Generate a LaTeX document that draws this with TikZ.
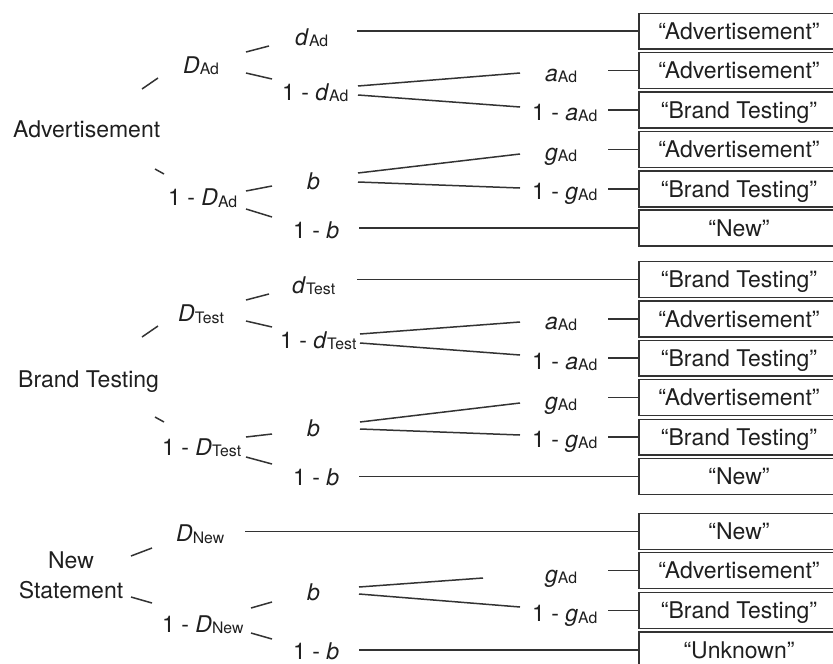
\documentclass[tikz,border=0pt]{standalone}
\usepackage{fontspec}
\setmainfont{TeX Gyre Heros}
\newcommand{\vs}[2]{\textit{#1}\raisebox{-1.5pt}{\fontsize{15.8}{16}\selectfont #2}}
\begin{document}
\begin{tikzpicture}[x=1pt,y=-1pt,
  lbl/.style={anchor=base west,inner sep=0pt,text=black!88,font=\fontsize{23}{27}\selectfont},
  outbox/.style={minimum width=200pt,minimum height=35.5pt,
     inner sep=0pt,text height=16.5pt,text depth=0pt,text=black!88,font=\fontsize{23}{27}\selectfont},
  edge/.style={draw=black!80,line width=1.5pt}]
\useasboundingbox (0,0) rectangle (833,664);

% ---------- labels, section 1 ----------
\node[lbl] (adv) at (13,137) {Advertisement};
\node[lbl] (DAd) at (183,73) {\vs{D}{Ad}};
\node[lbl] (dAd) at (295,45) {\vs{d}{Ad}};
\node[lbl] (omdAd) at (282,100) {1 - \vs{d}{Ad}};
\node[lbl] (aAdA) at (545,81) {\vs{a}{Ad}};
\node[lbl] (omaAdA) at (532,120) {1 - \vs{a}{Ad}};
\node[lbl] (bAd) at (307,189) {\textit{b}};
\node[lbl] (gAdA) at (545,160) {\vs{g}{Ad}};
\node[lbl] (omgAdA) at (532,199.3) {1 - \vs{g}{Ad}};
\node[lbl] (omDAd) at (168,205.5) {1 - \vs{D}{Ad}};
\node[lbl] (ombAd) at (293,238.3) {1 - \textit{b}};

% ---------- labels, section 2 ----------
\node[lbl] (bt) at (18,387.3) {Brand Testing};
\node[lbl] (DTest) at (178,321.7) {\vs{D}{Test}};
\node[lbl] (dTest) at (292,293.3) {\vs{d}{Test}};
\node[lbl] (omdTest) at (280,348.3) {1 - \vs{d}{Test}};
\node[lbl] (aAdB) at (545,329) {\vs{a}{Ad}};
\node[lbl] (omaAdB) at (532,369.3) {1 - \vs{a}{Ad}};
\node[lbl] (bTest) at (307,436.7) {\textit{b}};
\node[lbl] (gAdB) at (545,409) {\vs{g}{Ad}};
\node[lbl] (omgAdB) at (532,447) {1 - \vs{g}{Ad}};
\node[lbl] (omDTest) at (162,455) {1 - \vs{D}{Test}};
\node[lbl] (ombTest) at (293,485) {1 - \textit{b}};

% ---------- labels, section 3 ----------
\node[lbl,anchor=base,align=center,font=\fontsize{23}{30}\selectfont] (ns) at (71,598.3) {New\\Statement};
\node[lbl] (DNew) at (176,541.7) {\vs{D}{New}};
\node[lbl] (bNew) at (307,600.7) {\textit{b}};
\node[lbl] (gAdC) at (545,582.3) {\vs{g}{Ad}};
\node[lbl] (omgAdC) at (532,621.8) {1 - \vs{g}{Ad}};
\node[lbl] (omDNew) at (162,632.3) {1 - \vs{D}{New}};
\node[lbl] (ombNew) at (293,659) {1 - \textit{b}};

% ---------- outcome boxes (open at the right page edge) ----------
\node[outbox] (box1) at (739,31.2) {“Advertisement”};
\node[outbox] (box2) at (739,70.5) {“Advertisement”};
\node[outbox] (box3) at (739,110) {“Brand Testing”};
\node[outbox] (box4) at (739,149.5) {“Advertisement”};
\node[outbox] (box5) at (739,188.9) {“Brand Testing”};
\node[outbox] (box6) at (739,227.9) {“New”};
\node[outbox] (box7) at (739,279.5) {“Brand Testing”};
\node[outbox] (box8) at (739,319) {“Advertisement”};
\node[outbox] (box9) at (739,358.2) {“Brand Testing”};
\node[outbox] (box10) at (739,397.3) {“Advertisement”};
\node[outbox] (box11) at (739,437.2) {“Brand Testing”};
\node[outbox] (box12) at (739,476.5) {“New”};
\node[outbox] (box13) at (739,531.5) {“New”};
\node[outbox] (box14) at (739,570.5) {“Advertisement”};
\node[outbox] (box15) at (739,610.5) {“Brand Testing”};
\node[outbox] (box16) at (739,650) {“Unknown”};
\foreach \i in {1,...,15}{
  \draw[edge] (box\i.north -| 834,0) -- (box\i.north west) -- (box\i.south west) -- (box\i.south -| 834,0);
}
\draw[edge] (box16.north -| 834,0) -- (box16.north west) -- (box16.west |- 0,665);

% ---------- lines into the boxes ----------
\foreach \i/\x in {1/357,2/608,3/608,4/608,5/608,6/359,
                   7/357,8/608,9/608,10/608,11/608,12/359,
                   13/245,14/608,15/608,16/359}{
  \coordinate (st\i) at (box\i.west -| \x,0);
  \draw[edge] (st\i) -- (box\i.west);
}

% ---------- short tree strokes and fan lines ----------
\foreach \n/\xa/\ya/\xb/\yb in {
  sa/142/89/158/78, sb/155/169/164/174,
  sc/246/52/269/46, sd/246/73/272/79,
  se/246/191/272/186, sf/246/209/272/217,
  fa/358/86/520/73, fb/358/95/520/107,
  fc/358/173/520/154, fd/358/182/520/188,
  ta/142/337/158/326, tb/155/417/164/422,
  tc/246/300/269/294, td/246/321/272/327,
  te/246/437/272/434, tf/246/457/272/464,
  ga/360/334/520/322, gb/360/343/520/355,
  gc/360/422/520/403, gd/360/429/520/435,
  ua/131/556/152/548, ub/131/597/152/603,
  uc/251/608/272/602, ud/251/633/272/639,
  ha/359/587/483/578, hb/359/594/520/607}{
  \coordinate (\n1) at (\xa,\ya);
  \coordinate (\n2) at (\xb,\yb);
  \draw[edge] (\n1) -- (\n2);
}
\end{tikzpicture}
\end{document}
